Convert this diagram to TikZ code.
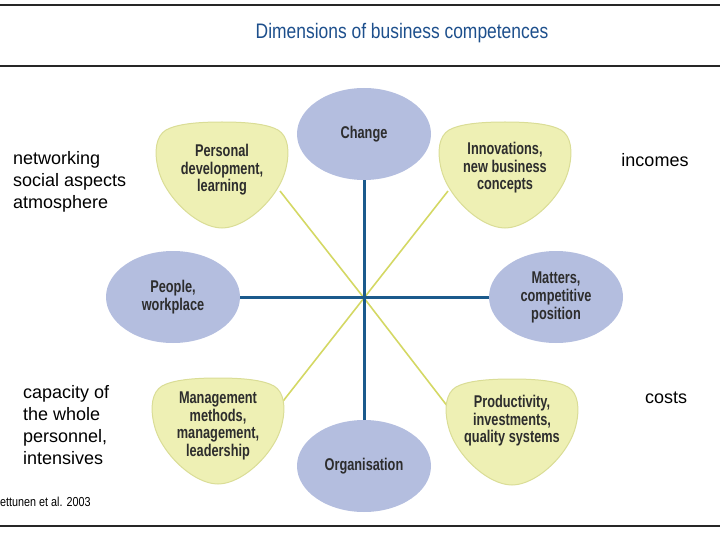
\documentclass[tikz,border=0pt]{standalone}
\usepackage{fontspec}
\setmainfont{Liberation Sans}
\newfontfamily\narrowfont[FakeStretch=0.75]{Liberation Sans}
\newfontfamily\titlefont[FakeStretch=0.83]{Liberation Sans}
\definecolor{compblue}{RGB}{29,79,140}
\definecolor{axisblue}{RGB}{27,90,140}
\definecolor{ovalfill}{RGB}{180,190,223}
\definecolor{shieldfill}{RGB}{238,240,180}
\definecolor{shieldedge}{RGB}{218,221,150}
\definecolor{spokegreen}{RGB}{212,216,100}
\definecolor{labelgray}{RGB}{45,45,45}
\usetikzlibrary{shapes.geometric}

\begin{document}
\begin{tikzpicture}[
      x=1pt, y=-1pt,
      oval/.style={
          ellipse,
          fill=ovalfill,
          minimum width=134pt,
          minimum height=92pt,
          inner sep=0pt,
          text=labelgray,
          font=\narrowfont\bfseries\fontsize{17pt}{18pt}\selectfont,
          align=center
        },
      shieldtext/.style={
          text=labelgray,
          font=\narrowfont\bfseries\fontsize{17pt}{17.5pt}\selectfont,
          align=center
        },
      shield/.pic={
          \draw[shieldedge, fill=shieldfill, line width=1pt]
            (0,-54) .. controls (25,-54) and (45,-52) .. (56,-46)
            .. controls (66,-40) and (68,-25) .. (64,-8)
            .. controls (58,20) and (25,52) .. (0,52)
            .. controls (-25,52) and (-58,20) .. (-64,-8)
            .. controls (-68,-25) and (-66,-40) .. (-56,-46)
            .. controls (-45,-52) and (-25,-54) .. (0,-54) -- cycle;
        },
      axis/.style={axisblue, line width=3pt},
      spoke/.style={spokegreen, line width=1.6pt},
      rule/.style={black!85, line width=1.2pt},
      note/.style={font=\fontsize{18pt}{22pt}\selectfont, align=left, inner sep=0pt}
    ]
    \useasboundingbox (0,0) rectangle (720,540);

    % title and rules
    \draw[rule] (0,5) -- (720,5);
    \draw[rule] (0,66) -- (720,66);
    \draw[rule] (0,526) -- (720,526);
    \node[text=compblue, font=\titlefont\fontsize{21pt}{24pt}\selectfont] (title) at (402,33) {Dimensions of business competences};

    % spokes
    \coordinate (hub) at (364,298);
    \coordinate (pd-end) at (280,191);
    \coordinate (in-end) at (448,191);
    \coordinate (mm-end) at (280,405);
    \coordinate (pr-end) at (448,407);
    \draw[spoke] (hub) -- (pd-end);
    \draw[spoke] (hub) -- (in-end);
    \draw[spoke] (hub) -- (mm-end);
    \draw[spoke] (hub) -- (pr-end);

    % shields
    \pic at (222,176) {shield};
    \node[shieldtext] (personal) at (222,170) {Personal\\development,\\learning};
    \pic at (505,176) {shield};
    \node[shieldtext] (innov) at (505,168) {Innovations,\\new business\\concepts};
    \pic at (218,432) {shield};
    \node[shieldtext] (mgmt) at (218,426) {Management\\methods,\\management,\\leadership};
    \pic at (512,433) {shield};
    \node[shieldtext] (prod) at (512,421) {Productivity,\\investments,\\quality systems};

    % ovals
    \node[oval] (change) at (364,134) {Change};
    \node[oval] (org) at (364,466) {Organisation};
    \node[oval] (people) at (173,297) {People,\\workplace};
    \node[oval] (matters) at (556,297) {Matters,\\competitive\\position};

    \draw[axis] (change.south) -- (org.north);
    \draw[axis] (people.east) -- (matters.west);

    % side notes
    \node[note, anchor=west] (social) at (13,182) {networking\\social aspects\\atmosphere};
    \node[note, anchor=west] (capacity) at (23,425) {capacity of\\the whole\\personnel,\\intensives};
    \node[note] (incomes) at (655,160) {incomes};
    \node[note] (costs) at (666,398) {costs};
    \node[anchor=west, font=\titlefont\fontsize{13pt}{14pt}\selectfont, inner sep=0pt] (cite) at (0,502) {ettunen et al. 2003};
  \end{tikzpicture}
\end{document}
